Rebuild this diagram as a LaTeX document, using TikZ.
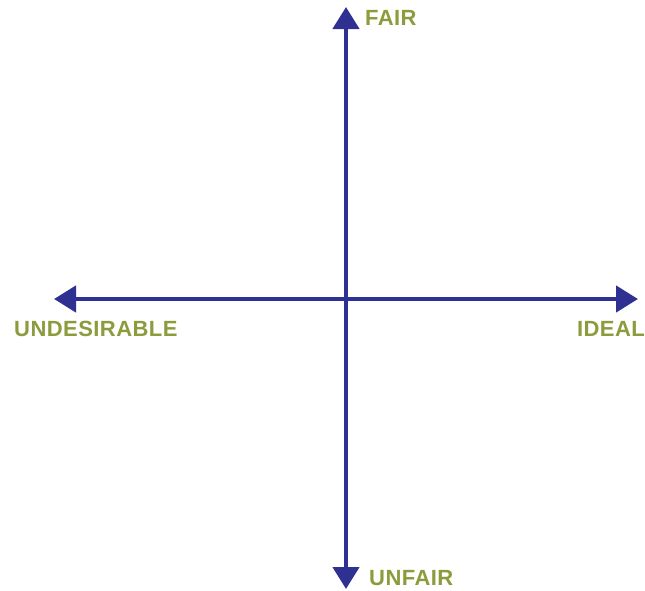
\documentclass[tikz,border=0pt]{standalone}
\usepackage{fontspec}
\setmainfont{Liberation Sans}
\newfontfamily\lblfont[LetterSpace=2]{Liberation Sans}
\usetikzlibrary{arrows.meta}
\definecolor{axisblue}{HTML}{2E3192}
\definecolor{lblgreen}{HTML}{8C9B3C}
\tikzset{
  axis/.style={{Triangle[length=22pt,width=26pt]}-{Triangle[length=22pt,width=26pt]},
    line width=4.5pt,draw=axisblue},
  axlbl/.style={font=\lblfont\fontsize{22}{22}\selectfont\bfseries,text=lblgreen,inner sep=0pt},
}
\begin{document}
\begin{tikzpicture}[x=1pt,y=-1pt]
  \useasboundingbox (0,0) rectangle (645,590);
  \coordinate (top) at (346,7);
  \coordinate (bot) at (346,589);
  \coordinate (left) at (54,299);
  \coordinate (right) at (638,299);
  \draw[axis] (bot) -- (top);
  \draw[axis] (left) -- (right);
  \node[axlbl,anchor=base west] (fair) at (365,25) {FAIR};
  \node[axlbl,anchor=base west] (unfair) at (369,585) {UNFAIR};
  \node[axlbl,anchor=base west] (undes) at (14,336) {UNDESIRABLE};
  \node[axlbl,anchor=base east] (ideal) at (645,336) {IDEAL};
\end{tikzpicture}
\end{document}
